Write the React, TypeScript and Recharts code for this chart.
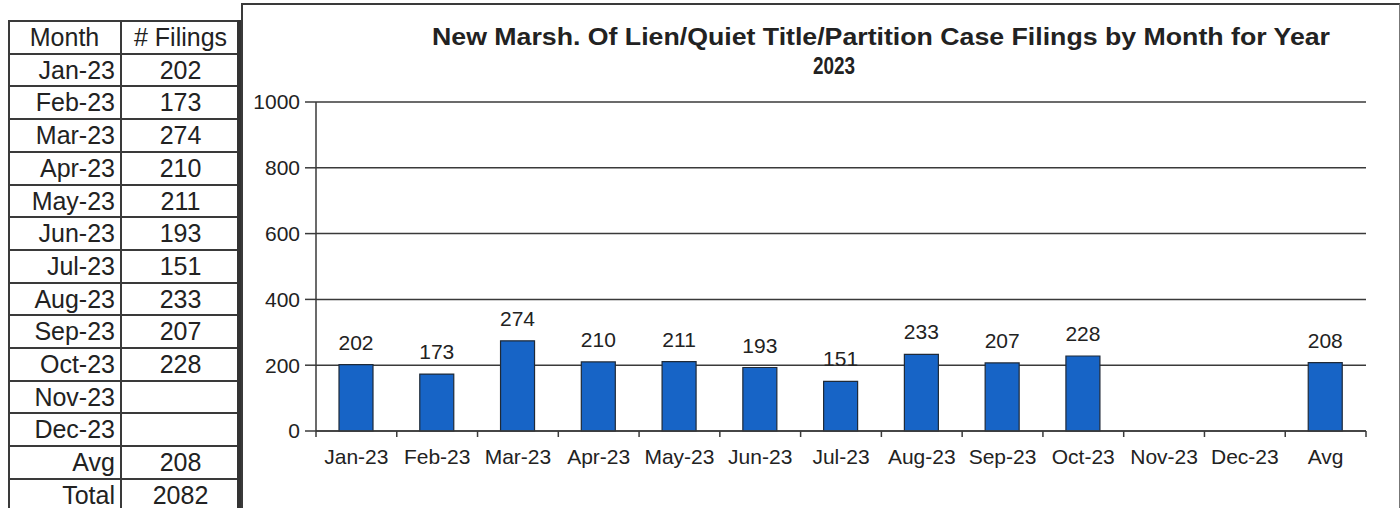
import React from 'react';
import { Bar, BarChart, CartesianGrid, LabelList, XAxis, YAxis } from 'recharts';

// chart categories and values
const monthLabels = [
  'Jan-23', 'Feb-23', 'Mar-23', 'Apr-23', 'May-23', 'Jun-23',
  'Jul-23', 'Aug-23', 'Sep-23', 'Oct-23', 'Nov-23', 'Dec-23', 'Avg',
];
const filingCounts: (number | null)[] = [202, 173, 274, 210, 211, 193, 151, 233, 207, 228, null, null, 208];
const totalFilings = 2082;
const yTicks = [0, 200, 400, 600, 800, 1000];

const titleLine1 = 'New Marsh. Of Lien/Quiet Title/Partition Case Filings by Month for Year';
const titleLine2 = '2023';

const FONT = '"Liberation Sans", Arial, sans-serif';
const INK = '#222';
const LINE = '#3a3a3a';
const BAR_BLUE = '#1764c6';

// plot area is 1050px wide with 13 categories
const CAT_W = 1050 / monthLabels.length;

const data = monthLabels.map((name, i) => ({ name, value: filingCounts[i] }));

const tableRows = [
  ...monthLabels.slice(0, 12).map((m, i) => ({ label: m, value: filingCounts[i] })),
  { label: 'Avg', value: filingCounts[12] },
  { label: 'Total', value: totalFilings },
];

function XTick(props: any) {
  const { x, y, payload, index } = props;
  const half = CAT_W / 2;
  const last = index === monthLabels.length - 1;
  return (
    <g>
      <line x1={x - half} y1={y} x2={x - half} y2={y + 6} stroke={LINE} strokeWidth={1.5} />
      {last && <line x1={x + half} y1={y} x2={x + half} y2={y + 6} stroke={LINE} strokeWidth={1.5} />}
      <text x={x} y={y + 33} textAnchor="middle" fontSize={21} fontFamily={FONT} fill={INK}>
        {payload.value}
      </text>
    </g>
  );
}

function FilingsTable() {
  const rowH = 32.7;
  const top = 20;
  const rows = [{ label: 'Month', value: '# Filings' as any, header: true }, ...tableRows];
  return (
    <div style={{ position: 'absolute', left: 8, top, width: 232, fontFamily: FONT, color: INK }}>
      {rows.map((r: any, i) => (
        <div
          key={i}
          style={{
            position: 'absolute',
            top: i * rowH,
            left: 0,
            width: 232,
            height: rowH,
            borderTop: `2px solid ${LINE}`,
            boxSizing: 'border-box',
            display: 'flex',
            fontSize: 25,
            lineHeight: `${rowH - 2}px`,
          }}
        >
          <div
            style={{
              width: 113,
              textAlign: r.header ? 'center' : 'right',
              paddingRight: r.header ? 0 : 6,
              boxSizing: 'border-box',
            }}
          >
            {r.label}
          </div>
          <div style={{ width: 119, textAlign: 'center' }}>{r.value ?? ''}</div>
        </div>
      ))}
      {/* column borders */}
      <div style={{ position: 'absolute', left: 0, top: 0, width: 2, height: 520, background: LINE }} />
      <div style={{ position: 'absolute', left: 112, top: 0, width: 2, height: 520, background: LINE }} />
      <div style={{ position: 'absolute', left: 229, top: 0, width: 4, height: 520, background: '#333' }} />
    </div>
  );
}

export default function App() {
  return (
    <div
      style={{
        position: 'absolute',
        left: 0,
        top: 0,
        width: 1400,
        height: 508,
        overflow: 'hidden',
        background: '#fff',
      }}
    >
      <FilingsTable />

      {/* chart box */}
      <div
        style={{
          position: 'absolute',
          left: 241,
          top: 3,
          width: 1156,
          height: 520,
          borderTop: `2px solid ${LINE}`,
          borderLeft: `2px solid ${LINE}`,
          borderRight: '1px solid #777',
        }}
      />

      <svg style={{ position: 'absolute', left: 0, top: 0 }} width={1400} height={100}>
        <text
          x={432}
          y={45}
          fontSize={23}
          fontWeight="bold"
          fontFamily={FONT}
          fill={INK}
          textLength={898}
          lengthAdjust="spacingAndGlyphs"
        >
          {titleLine1}
        </text>
        <text
          x={813}
          y={74}
          fontSize={24}
          fontWeight="bold"
          fontFamily={FONT}
          fill={INK}
          textLength={42}
          lengthAdjust="spacingAndGlyphs"
        >
          {titleLine2}
        </text>
      </svg>

      <div style={{ position: 'absolute', left: 244, top: 4 }}>
        <BarChart
          width={1156}
          height={504}
          data={data}
          margin={{ top: 98, right: 34, bottom: 47, left: 12 }}
        >
          <CartesianGrid vertical={false} stroke={LINE} strokeWidth={1.5} />
          <XAxis
            dataKey="name"
            interval={0}
            height={30}
            tickSize={0}
            tickMargin={0}
            tickLine={false}
            axisLine={{ stroke: LINE, strokeWidth: 1.5 }}
            tick={<XTick />}
          />
          <YAxis
            domain={[0, 1000]}
            ticks={yTicks}
            width={60}
            tickSize={11}
            tickMargin={5}
            axisLine={{ stroke: LINE, strokeWidth: 1.5 }}
            tickLine={{ stroke: LINE, strokeWidth: 1.5 }}
            tick={{ fontSize: 21, fontFamily: FONT, fill: INK }}
          />
          <YAxis
            yAxisId="right"
            orientation="right"
            width={0}
            domain={[0, 1000]}
            tick={false}
            tickLine={false}
            axisLine={{ stroke: LINE, strokeWidth: 1.5 }}
          />
          <Bar dataKey="value" fill={BAR_BLUE} stroke="#1f2a38" strokeWidth={1.2} barSize={34} isAnimationActive={false}>
            <LabelList
              dataKey="value"
              position="top"
              offset={15}
              fontSize={21}
              fontFamily={FONT}
              fill={INK}
              formatter={(v: any) => (v == null ? '' : v)}
            />
          </Bar>
        </BarChart>
      </div>
    </div>
  );
}
